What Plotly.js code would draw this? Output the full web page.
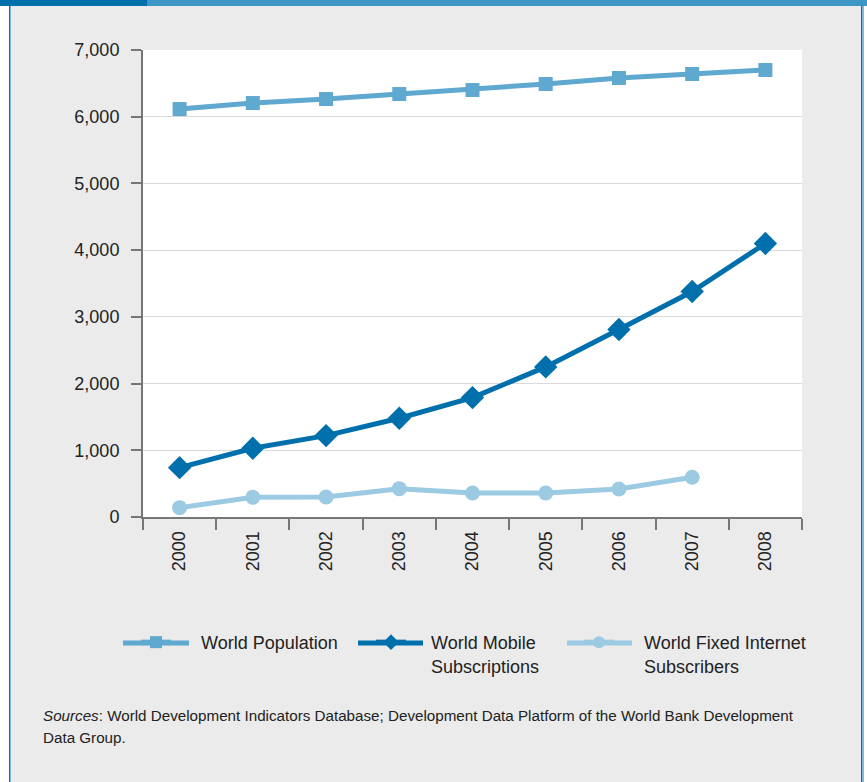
<!DOCTYPE html>
<html>
<head>
<meta charset="utf-8">
<script src="https://cdn.plot.ly/plotly-3.0.1.min.js"></script>
<style>
  html, body { margin: 0; padding: 0; background: #ffffff; }
  #wrap { position: relative; width: 867px; height: 782px; overflow: hidden; background: #ffffff; }
  #chart { position: absolute; left: 0; top: 0; width: 867px; height: 782px; }
  .deco { position: absolute; pointer-events: none; }
</style>
</head>
<body>
<div id="wrap">
  <div id="chart"></div>
  <div class="deco" style="left:0;top:0;width:9px;height:782px;background:#ffffff;"></div>
  <div class="deco" style="left:9px;top:0;width:1px;height:782px;background:#0a6fad;"></div>
  <div class="deco" style="left:10px;top:0;width:1px;height:782px;background:#7fb8dc;"></div>
  <div class="deco" style="left:861px;top:0;width:1px;height:782px;background:#0a6fad;"></div>
  <div class="deco" style="left:862px;top:0;width:2px;height:782px;background:#7fb8dc;"></div>
  <div class="deco" style="left:864px;top:0;width:3px;height:782px;background:#ffffff;"></div>
  <div class="deco" style="left:0;top:0;width:147px;height:6px;background:#0070ad;"></div>
  <div class="deco" style="left:147px;top:0;width:720px;height:6px;background:#3d96c6;"></div>
</div>
<script>
const years = ["2000","2001","2002","2003","2004","2005","2006","2007","2008"];
const worldPopulation = [6115, 6205, 6265, 6340, 6400, 6490, 6580, 6640, 6700];
const worldMobile = [740, 1030, 1220, 1480, 1790, 2250, 2810, 3380, 4100];
const worldInternet = [140, 295, 300, 425, 360, 360, 420, 595];
const internetYears = years.slice(0, 8);
const seriesNames = [
  "&nbsp;&nbsp;&nbsp;&nbsp;&nbsp;World Population",
  "&nbsp;&nbsp;&nbsp;&nbsp;World Mobile<br>&nbsp;&nbsp;&nbsp;&nbsp;Subscriptions",
  "&nbsp;&nbsp;&nbsp;&nbsp;&nbsp;World Fixed Internet<br>&nbsp;&nbsp;&nbsp;&nbsp;&nbsp;Subscribers"
];
const yTickVals = [0, 1000, 2000, 3000, 4000, 5000, 6000, 7000];
const colors = ["#5fa8d0", "#0070ad", "#9ccae3"];

const FONT = "'Liberation Sans', Arial, Helvetica, sans-serif";

const traces = [
  {
    x: years, y: worldPopulation, name: seriesNames[0], type: "scatter", mode: "lines+markers",
    legend: "legend",
    line: { color: colors[0], width: 5 },
    marker: { symbol: "square", size: 14, color: colors[0] }
  },
  {
    x: years, y: worldMobile, name: seriesNames[1], type: "scatter", mode: "lines+markers",
    legend: "legend2",
    line: { color: colors[1], width: 5 },
    marker: { symbol: "diamond", size: 18, color: colors[1] }
  },
  {
    x: internetYears, y: worldInternet, name: seriesNames[2], type: "scatter", mode: "lines+markers",
    legend: "legend3",
    line: { color: colors[2], width: 5 },
    marker: { symbol: "circle", size: 15, color: colors[2] }
  }
];

const legendBase = {
  orientation: "h",
  xanchor: "left",
  y: -0.229, yanchor: "top",
  valign: "top",
  bgcolor: "rgba(0,0,0,0)",
  font: { family: FONT, size: 18, color: "#222222" },
  itemsizing: "constant"
};

// legend key line extensions (decoration only)
const legendLineY = -0.2698;
const legendLines = [[-0.0303, 0.0698], [0.3263, 0.4249], [0.6434, 0.742]].map((p, i) => ({
  type: "line", xref: "paper", yref: "paper",
  x0: p[0], x1: p[1], y0: legendLineY, y1: legendLineY,
  line: { color: colors[i], width: 5 }
}));

const layout = {
  width: 867, height: 782,
  margin: { l: 143, r: 65, t: 50, b: 265 },
  paper_bgcolor: "#ebebeb",
  plot_bgcolor: "#ffffff",
  font: { family: FONT, size: 18, color: "#222222" },
  showlegend: true,
  xaxis: {
    type: "category",
    categoryorder: "array", categoryarray: years,
    range: [-0.5, 8.5],
    tickson: "boundaries",
    ticks: "outside", ticklen: 11, tickwidth: 2, tickcolor: "#777777",
    ticklabelstandoff: 5,
    showline: true, linecolor: "#777777", linewidth: 2,
    showgrid: false, zeroline: false,
    tickangle: -90,
    tickfont: { family: FONT, size: 18, color: "#222222" }
  },
  yaxis: {
    range: [0, 7000],
    tickvals: yTickVals,
    tickformat: ",",
    ticks: "outside", ticklen: 10, tickwidth: 2, tickcolor: "#777777",
    ticklabelstandoff: 8,
    showline: true, linecolor: "#777777", linewidth: 2,
    showgrid: true, gridcolor: "#d9d9d9", gridwidth: 1,
    zeroline: false,
    tickfont: { family: FONT, size: 18, color: "#222222" }
  },
  legend: Object.assign({}, legendBase, { x: -0.0106 }),
  legend2: Object.assign({}, legendBase, { x: 0.346 }),
  legend3: Object.assign({}, legendBase, { x: 0.6616 }),
  shapes: legendLines,
  annotations: [
    {
      xref: "paper", yref: "paper", x: -0.155, y: -0.403, xanchor: "left", yanchor: "top",
      showarrow: false, align: "left",
      text: "<i>Sources</i>: World Development Indicators Database; Development Data Platform of the World Bank Development",
      font: { family: FONT, size: 15.2, color: "#222222" }
    },
    {
      xref: "paper", yref: "paper", x: -0.155, y: -0.45, xanchor: "left", yanchor: "top",
      showarrow: false, align: "left",
      text: "Data Group.",
      font: { family: FONT, size: 15.2, color: "#222222" }
    }
  ]
};

Plotly.newPlot("chart", traces, layout, { displayModeBar: false, staticPlot: true });
</script>
</body>
</html>
